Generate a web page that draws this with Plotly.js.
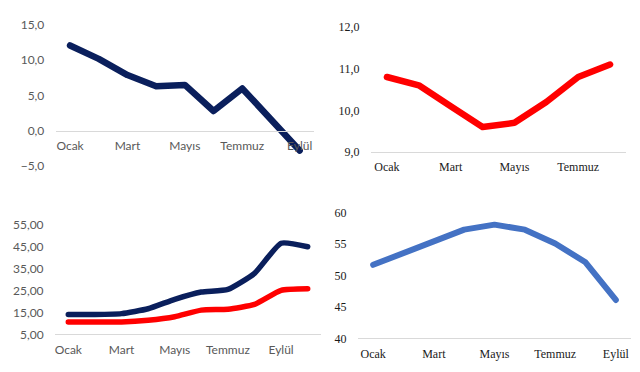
<!DOCTYPE html>
<html>
<head>
<meta charset="utf-8">
<script src="https://cdn.plot.ly/plotly-3.0.1.min.js"></script>
<style>
html,body{margin:0;padding:0;background:#fff;}
#chart{width:640px;height:372px;}
.scatterlayer .js-line{stroke-linecap:round !important;stroke-linejoin:round !important;}
</style>
</head>
<body>
<div id="chart"></div>
<script>
// Months (categories)
const months = ['Ocak','Şubat','Mart','Nisan','Mayıs','Haziran','Temmuz','Ağustos','Eylül','Ekim'];
const tickLabelsA = ['Ocak','Mart','Mayıs','Temmuz','Eylül'];
const tickLabelsB = ['Ocak','Mart','Mayıs','Temmuz'];

// Panel 1 (top-left)
const p1Values = [12.1, 10.2, 7.9, 6.3, 6.5, 2.8, 6.0, 1.7, -2.8];
// Panel 2 (top-right)
const p2Values = [10.8, 10.6, 10.1, 9.6, 9.7, 10.2, 10.8, 11.1];
// Panel 3 (bottom-left)
const p3Navy = [14.0, 14.0, 14.4, 16.6, 20.9, 24.2, 25.4, 32.7, 46.4, 44.8];
const p3Red  = [10.6, 10.6, 10.6, 11.4, 13.0, 16.0, 16.4, 18.6, 25.0, 25.7];
// Panel 4 (bottom-right)
const p4Values = [51.7, 53.6, 55.3, 57.3, 58.1, 57.3, 55.1, 52.1, 46.1];

const NAVY = '#0a1f5c', RED = '#ff0000', BLUE = '#4472c4';
const sansFont = {family: 'Lato, "Liberation Sans", sans-serif', size: 12, color: '#595959'};
const serifFont = {family: '"Liberation Serif", "DejaVu Serif", serif', size: 12, color: '#1a1a1a'};

const W = 640, H = 372;
const fx = p => p / W;
const fy = p => 1 - p / H;

const traces = [
  {x: months.slice(0, p1Values.length), y: p1Values, xaxis: 'x', yaxis: 'y', mode: 'lines',
   line: {color: NAVY, width: 6.5}, hoverinfo: 'skip'},
  {x: months.slice(0, p2Values.length), y: p2Values, xaxis: 'x2', yaxis: 'y2', mode: 'lines',
   line: {color: RED, width: 6.5}, hoverinfo: 'skip'},
  {x: months.slice(0, p3Navy.length), y: p3Navy, xaxis: 'x3', yaxis: 'y3', mode: 'lines',
   line: {color: NAVY, width: 5.5, shape: 'spline', smoothing: 0.5}, hoverinfo: 'skip'},
  {x: months.slice(0, p3Red.length), y: p3Red, xaxis: 'x3', yaxis: 'y3', mode: 'lines',
   line: {color: RED, width: 5.5, shape: 'spline', smoothing: 0.5}, hoverinfo: 'skip'},
  {x: months.slice(0, p4Values.length), y: p4Values, xaxis: 'x4', yaxis: 'y4', mode: 'lines',
   line: {color: BLUE, width: 6}, hoverinfo: 'skip'}
];

function xax(domain, n, labels, font, extra) {
  return Object.assign({
    domain: domain, type: 'category', range: [-0.5, n - 0.5],
    categoryorder: 'array', categoryarray: months.slice(0, n),
    tickmode: 'array', tickvals: labels, ticktext: labels,
    showgrid: false, zeroline: false, showline: true, linecolor: '#d9d9d9', linewidth: 1,
    ticks: 'outside', ticklen: 4, tickcolor: 'rgba(0,0,0,0)', tickfont: font, fixedrange: true
  }, extra || {});
}
function yax(domain, range, dtick, fmt, font, anchor) {
  return {
    domain: domain, range: range, dtick: dtick, tick0: range[0], tickformat: fmt,
    showgrid: false, zeroline: false, showline: false, anchor: anchor,
    ticks: 'outside', ticklen: 8, tickcolor: 'rgba(0,0,0,0)', tickfont: font, fixedrange: true
  };
}

const layout = {
  width: W, height: H, margin: {l: 0, r: 0, t: 0, b: 0},
  paper_bgcolor: '#fff', plot_bgcolor: 'rgba(0,0,0,0)', showlegend: false,
  separators: ',.',
  xaxis: xax([fx(55.7), fx(314)], 9, tickLabelsA, sansFont, {anchor: 'free', position: fy(131)}),
  yaxis: yax([fy(166), fy(25)], [-5, 15], 5, '.1f', sansFont, 'x'),
  xaxis2: xax([fx(371), fx(626)], 8, tickLabelsB, serifFont, {anchor: 'y2'}),
  yaxis2: yax([fy(152), fy(27)], [9, 12], 1, '.1f', serifFont, 'x2'),
  xaxis3: xax([fx(55), fx(321)], 10, tickLabelsA, sansFont, {anchor: 'y3'}),
  yaxis3: yax([fy(334.3), fy(224.3)], [5, 55], 10, '.2f', sansFont, 'x3'),
  xaxis4: xax([fx(358), fx(631)], 9, tickLabelsA, serifFont, {anchor: 'y4'}),
  yaxis4: yax([fy(338.3), fy(212.7)], [40, 60], 5, 'd', serifFont, 'x4')
};

Plotly.newPlot('chart', traces, layout, {displayModeBar: false, staticPlot: true});
</script>
</body>
</html>
